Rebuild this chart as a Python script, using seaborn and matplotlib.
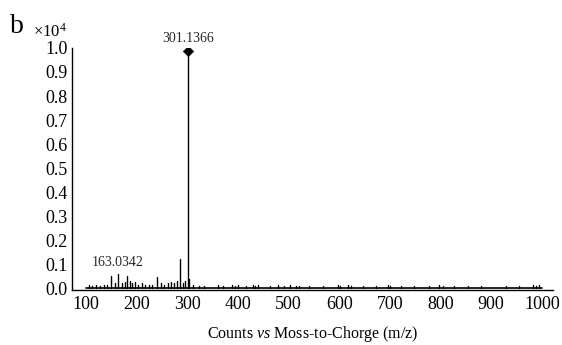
import matplotlib
matplotlib.use("Agg")
import matplotlib.pyplot as plt
import seaborn as sns
import pandas as pd

# --- spectrum data (intensity in units of 1e4 counts) ---
mz_peaks = [105, 112, 120, 128, 135, 142, 150, 157, 163.0342, 170, 177, 181,
            186, 191, 197, 203, 210, 217, 224, 231, 240, 247, 254, 261, 268,
            274, 279, 285, 291, 296, 301.1366, 304, 312, 322, 332, 361, 371,
            389, 394, 399, 415, 429, 434, 439, 464, 478, 490, 502, 514, 520,
            540, 567, 597, 601, 617, 623, 647, 672, 696, 700, 722, 748, 777,
            797, 805, 827, 854, 880, 930, 955, 983, 989, 995]
intensity = [0.015, 0.010, 0.012, 0.010, 0.015, 0.012, 0.050, 0.020, 0.060, 0.020,
             0.025, 0.050, 0.030, 0.020, 0.025, 0.015, 0.020, 0.012, 0.015, 0.012,
             0.045, 0.020, 0.015, 0.020, 0.025, 0.020, 0.030, 0.120, 0.020, 0.030,
             0.987, 0.040, 0.012, 0.010, 0.010, 0.012, 0.010, 0.012, 0.010, 0.012,
             0.010, 0.012, 0.010, 0.012, 0.010, 0.012, 0.010, 0.012, 0.010, 0.010,
             0.010, 0.010, 0.012, 0.010, 0.012, 0.010, 0.010, 0.010, 0.012, 0.010,
             0.010, 0.010, 0.010, 0.012, 0.010, 0.010, 0.010, 0.010, 0.010, 0.010,
             0.012, 0.010, 0.012]
base_mz = [100, 1000]
labelled = ["163.0342", "301.1366"]
x_ticks = [100, 200, 300, 400, 500, 600, 700, 800, 900, 1000]
y_ticks = [0.0, 0.1, 0.2, 0.3, 0.4, 0.5, 0.6, 0.7, 0.8, 0.9, 1.0]

# stems as two-point lines per peak
rows = []
for i, (m, h) in enumerate(zip(mz_peaks, intensity)):
    rows.append({"peak": i, "mz": m, "y": 0.0})
    rows.append({"peak": i, "mz": m, "y": h})
stems = pd.DataFrame(rows)

sns.set_theme(style="white")
plt.rcParams["font.family"] = ["Liberation Serif", "DejaVu Serif"]
plt.rcParams["mathtext.fontset"] = "custom"
plt.rcParams["mathtext.rm"] = "Liberation Serif"
plt.rcParams["mathtext.it"] = "Liberation Serif:italic"

fig = plt.figure(figsize=(5.62, 3.45), dpi=100)
ax = fig.add_axes([0.128, 0.159, 0.856, 0.702])

sns.lineplot(data=stems, x="mz", y="y", units="peak", estimator=None, sort=False,
             color="black", linewidth=1.0, ax=ax, legend=False)
sns.lineplot(x=base_mz, y=[0.0, 0.0], color="black", linewidth=1.2, ax=ax)

top = mz_peaks.index(301.1366)
sns.scatterplot(x=[mz_peaks[top]], y=[intensity[top]], marker="D", color="black",
                s=28, edgecolor="black", ax=ax, zorder=5)
ax.text(mz_peaks[top], intensity[top] + 0.025, labelled[1], ha="center", va="bottom",
        fontsize=10)
lo = mz_peaks.index(163.0342)
ax.text(mz_peaks[lo], 0.08, labelled[0], ha="center", va="bottom", fontsize=10)

ax.set_xlim(72, 1022)
ax.set_ylim(-0.008, 1.0)
ax.set_xticks(x_ticks)
ax.set_yticks(y_ticks)
ax.set_yticklabels([f"{v:.1f}" for v in y_ticks])
ax.tick_params(axis="both", direction="in", length=5, width=1, colors="black",
               labelsize=13, pad=3)
ax.tick_params(axis="x", pad=4)
for s in ["top", "right"]:
    ax.spines[s].set_visible(False)
for s in ["left", "bottom"]:
    ax.spines[s].set_color("black")
    ax.spines[s].set_linewidth(1.0)

ax.set_xlabel("Counts $\\mathit{vs}$ Moss-to-Chorge (m/z)", fontsize=11.5,
              color="black", labelpad=8)
ax.set_ylabel("")

fig.text(0.018, 0.905, "b", fontsize=20, color="black")
fig.text(0.058, 0.893, "×10$^4$", fontsize=12, color="black")

fig.savefig("out.png", dpi=100)
